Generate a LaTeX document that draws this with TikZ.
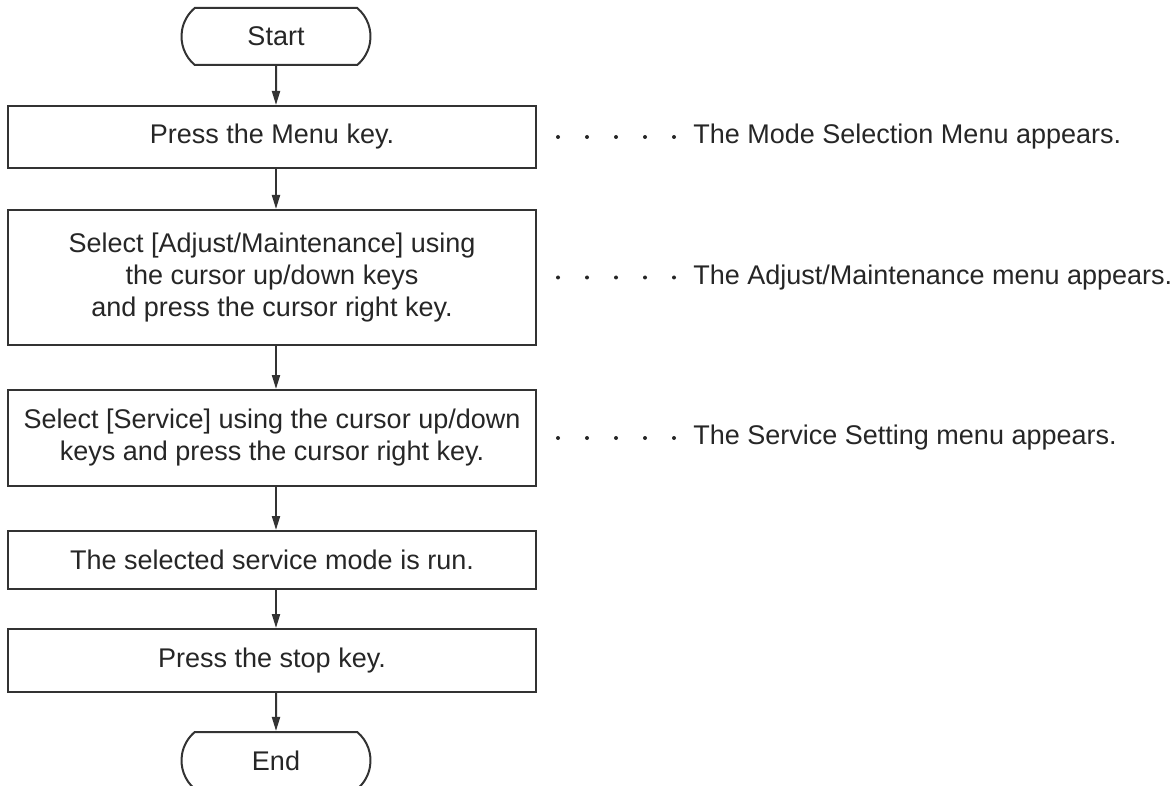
\documentclass[tikz,border=0pt]{standalone}
\usepackage{fontspec}
\setmainfont{Liberation Sans}
\usetikzlibrary{arrows.meta,shapes.misc}

\begin{document}
\begin{tikzpicture}[x=0.5pt,y=-0.5pt,
  font=\fontsize{13.5}{16}\selectfont,
  box/.style={draw=black!80,line width=1pt,minimum width=264pt,align=center,inner sep=0pt,text=black!85},
  term/.style={draw=black!80,line width=1pt,rounded rectangle,rounded rectangle arc length=100,minimum width=94.5pt,minimum height=28.5pt,inner sep=0pt,text=black!85},
  arr/.style={draw=black!80,line width=1pt,-{Triangle[length=7pt,width=4pt]}},
  note/.style={anchor=west,inner sep=0pt,text=black!85}]
\useasboundingbox (0,0) rectangle (1173,786);
%起止
\node[term] (start) at (276,36.5) {Start};
\node[term] (end) at (276,760.5) {End};
%步骤
\node[box,minimum height=31pt] (b1) at (272,137) {Press the Menu key.};
\node[box,minimum height=67.5pt] (b2) at (272,277.5) {Select [Adjust/Maintenance] using\\the cursor up/down keys\\and press the cursor right key.};
\node[box,minimum height=48pt] (b3) at (272,438) {Select [Service] using the cursor up/down\\keys and press the cursor right key.};
\node[box,minimum height=29pt] (b4) at (272,560) {The selected service mode is run.};
\node[box,minimum height=31.5pt] (b5) at (272,660.5) {Press the stop key.};
%右侧说明
\node[note] (n1) at (693,137) {The Mode Selection Menu appears.};
\node[note] (n2) at (693,277.5) {The Adjust/Maintenance menu appears.};
\node[note] (n3) at (693,438) {The Service Setting menu appears.};
\foreach \y in {137,277.5,438}
  \foreach \k in {0,...,4}
    \fill[black!85] (558+29*\k,\y) circle[radius=1pt];

%连线
\draw[arr] (start) -- (b1.north -| start);
\draw[arr] (b1.south -| start) -- (b2.north -| start);
\draw[arr] (b2.south -| start) -- (b3.north -| start);
\draw[arr] (b3.south -| start) -- (b4.north -| start);
\draw[arr] (b4.south -| start) -- (b5.north -| start);
\draw[arr] (b5.south -| start) -- (end);
\end{tikzpicture}
\end{document}
